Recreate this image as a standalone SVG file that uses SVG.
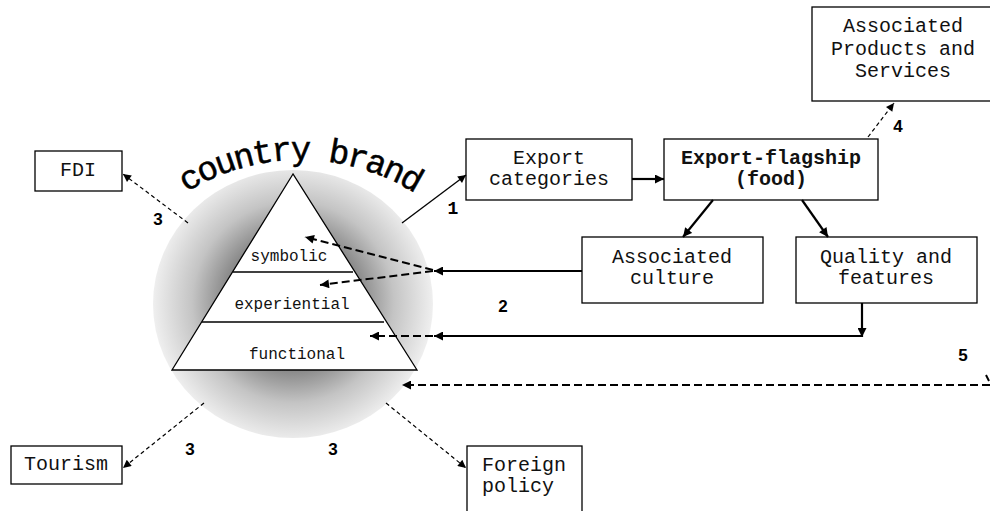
<svg xmlns="http://www.w3.org/2000/svg" width="990" height="511" viewBox="0 0 990 511">
<defs>
  <radialGradient id="glow" cx="293" cy="302" r="140" gradientUnits="userSpaceOnUse">
    <stop offset="0" stop-color="#505050"/>
    <stop offset="0.5" stop-color="#8c8c8c"/>
    <stop offset="0.72" stop-color="#c4c4c4"/>
    <stop offset="1" stop-color="#efefef"/>
  </radialGradient>
  <marker id="ah" viewBox="0 0 10 10" refX="10" refY="5" markerWidth="11" markerHeight="9" markerUnits="userSpaceOnUse" orient="auto">
    <path d="M0,0 L10,5 L0,10 z" fill="#000"/>
  </marker>
  <marker id="ahs" viewBox="0 0 10 10" refX="10" refY="5" markerWidth="10" markerHeight="8" markerUnits="userSpaceOnUse" orient="auto">
    <path d="M0,0 L10,5 L0,10 z" fill="#000"/>
  </marker>
  <path id="arc" d="M 113.8 267.5 A 215 215 0 0 1 486.2 267.5" fill="none"/>
</defs>
<style>
  .box { fill: #fff; stroke: #000; stroke-width: 1.3; }
  .t { font-family: "Liberation Mono", "Courier New", monospace; font-size: 20px; fill: #111; text-anchor: middle; }
  .tb { font-weight: bold; }
  .pl { font-family: "Liberation Mono", "Courier New", monospace; font-size: 16px; fill: #111; text-anchor: middle; }
  .num { font-family: "Liberation Sans", Arial, sans-serif; font-weight: bold; font-size: 17px; fill: #000; text-anchor: middle; }
  .num1 { font-family: "Liberation Mono", "Courier New", monospace; font-weight: bold; font-size: 18px; fill: #000; text-anchor: middle; }
  .solid { fill: none; stroke: #000; stroke-width: 1.3; }
  .thick { fill: none; stroke: #000; stroke-width: 2.2; }
  .dash { fill: none; stroke: #000; stroke-width: 2; stroke-dasharray: 8 4; }
  .dthin { fill: none; stroke: #000; stroke-width: 1.2; stroke-dasharray: 4 3; }
</style>

<g id="country-brand">
  <ellipse cx="293" cy="304" rx="140" ry="134" fill="url(#glow)"/>
  <polygon points="293,174 172,370 417,370" fill="#fff" stroke="#000" stroke-width="1.3"/>
  <line x1="233" y1="272" x2="353" y2="272" stroke="#000" stroke-width="1.3"/>
  <line x1="202" y1="322" x2="384" y2="322" stroke="#000" stroke-width="1.3"/>
  <text class="pl" x="289" y="261">symbolic</text>
  <text class="pl" x="292" y="309">experiential</text>
  <text class="pl" x="297" y="359">functional</text>
  <text font-family="Liberation Mono, Courier New, monospace" font-size="34" letter-spacing="-2" fill="#000" stroke="#000" stroke-width="0.5" text-anchor="middle"><textPath href="#arc" startOffset="50%">country brand</textPath></text>
</g>

<g id="fdi"><rect class="box" x="35" y="151" width="87" height="40"/><text class="t" x="78" y="176">FDI</text></g>
<g id="tourism"><rect class="box" x="11" y="446" width="111" height="38"/><text class="t" x="66" y="470">Tourism</text></g>
<g id="foreign-policy"><rect class="box" x="467" y="446" width="115" height="80"/><text class="t" x="482" y="471" style="text-anchor:start">Foreign</text><text class="t" x="482" y="492" style="text-anchor:start">policy</text></g>
<g id="export-categories"><rect class="box" x="466" y="139" width="166" height="61"/><text class="t" x="549" y="164">Export</text><text class="t" x="549" y="185">categories</text></g>
<g id="export-flagship"><rect class="box" x="664" y="139" width="214" height="61"/><text class="t tb" x="771" y="164">Export-flagship</text><text class="t tb" x="771" y="185">(food)</text></g>
<g id="associated-products"><rect class="box" x="812" y="7" width="190" height="94"/><text class="t" x="903" y="32">Associated</text><text class="t" x="903" y="55">Products and</text><text class="t" x="903" y="77">Services</text></g>
<g id="associated-culture"><rect class="box" x="582" y="237" width="181" height="66"/><text class="t" x="672" y="263">Associated</text><text class="t" x="672" y="284">culture</text></g>
<g id="quality-features"><rect class="box" x="796" y="237" width="181" height="66"/><text class="t" x="886" y="263">Quality and</text><text class="t" x="886" y="284">features</text></g>

<g id="connectors">
  <path class="solid" d="M402,223 L466,175" marker-end="url(#ahs)"/>
  <path class="thick" d="M632,179 L664,179" marker-end="url(#ah)"/>
  <path class="thick" d="M713,200 L683,237" marker-end="url(#ah)"/>
  <path class="thick" d="M802,200 L828,237" marker-end="url(#ah)"/>
  <path class="dthin" d="M868,137 L894,103" marker-end="url(#ahs)"/>
  <path class="thick" d="M582,271 L434,271" marker-end="url(#ah)"/>
  <path class="dash" d="M433,270 L305,237" marker-end="url(#ah)"/>
  <path class="dash" d="M433,271 L320,285" marker-end="url(#ah)"/>
  <path class="thick" d="M862,303 L862,337" marker-end="url(#ah)"/>
  <path class="thick" d="M862,336 L434,336" marker-end="url(#ah)"/>
  <path class="dash" d="M433,336 L370,336" marker-end="url(#ah)"/>
  <path class="dash" d="M986,375 L989,381" />
  <path class="dash" d="M990,385 L402,385" marker-end="url(#ah)"/>
  <path class="dthin" d="M188,223 L123,174" marker-end="url(#ahs)"/>
  <path class="dthin" d="M204,403 L123,468" marker-end="url(#ahs)"/>
  <path class="dthin" d="M386,403 L466,468" marker-end="url(#ahs)"/>
</g>

<g id="labels">
  <text class="num1" x="453" y="214">1</text>
  <text class="num" x="503" y="312">2</text>
  <text class="num" x="158" y="225">3</text>
  <text class="num" x="190" y="455">3</text>
  <text class="num" x="333" y="455">3</text>
  <text class="num" x="898" y="132">4</text>
  <text class="num" x="963" y="361">5</text>
</g>
</svg>
